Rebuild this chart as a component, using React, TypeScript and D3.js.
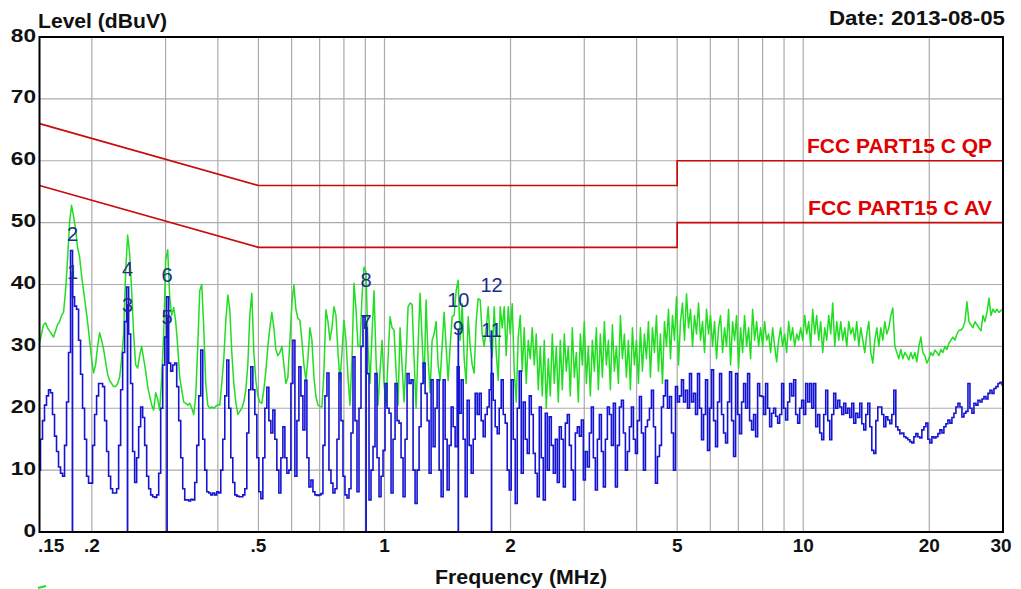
import React from 'react';
import * as d3 from 'd3';

// Sweep definition (start / stop in MHz); levels are read from the picture at
// evenly spaced (log) sweep positions.
const F_START = 0.15;
const F_STOP = 30;

const qpLevels: number[] = [
  30.5,32,33.5,33.8,33,32.5,32,31.5,32.5,33.5,34,35,35.5,39,44,50,52.8,51,49,46,
  44.5,41.5,39,36.5,34,31,28,25.7,27,30,32.2,31,29.5,27.5,25.5,24.5,24,23.5,23.5,24,
  25,28,32,42,48,45,39,32,27,26.5,28.5,30,28,26,23.5,22,20.5,19.7,22.5,21.5,
  19.7,25,32,44,45.6,38,35,36.3,34,30,25,23,21,20.8,20.5,20.8,20,19,22,30,
  39,40,33,24,20.5,20,20.2,20,20.3,20.6,20.5,24,28,34,38.3,36,29,24,21,19,
  19.5,20,21,23,27,35,38.6,29,24.5,22,21,20.8,23,26,30,33,35.5,33,29.5,28.5,
  29,30,27,24,25,31,37,39.9,36,34.5,34.2,31,27,24.5,28,33,31,25,21.9,20.5,
  20.3,20.2,26,35.9,34,31,33,36.4,35,29,24.5,29,34.2,31,25,20.5,28,40.2,36,30,
  30,38,42.8,42,30,24,32,39,28,20.5,26,31,24,20.5,28,34.8,33,32.6,26,20.5,
  33,27,21,28,36.4,37,36.8,28,20,30,38.6,31,24,37.5,28,22.5,31,32,34,27,
  24.5,30,35.5,30,24.5,30,34.8,35,39,40.7,31,36.9,28,24,34.8,30,27,25.7,34,37.7,
  37.5,32,30,33,36.4,31,28.3,36.4,29,24.5,36.4,33,36.4,28.5,36.4,32,36.9,26,21,31.5,
  35,26,33,24,31,28,33,27,32,23,30,22,31,20,28,22,32,24,30,21,
  31,23,32,26,30,22,33,25,29,21,32,27,34,24,30,22,31,26,33,23,
  32,25,34,27,31,23,33.5,26,30,24,35,28,32,25,31,23,33,27,31,24,
  33,26,32,28,34,25,33,29,35,26,32,24,34,30,36,28,35,31,38,27,
  34,37,31,38.5,33,36,30,35,32,37,31,34,29,36,32,35,30,34,28,33,
  35,29,33,30,36,27,34,31,35,26.5,33,29,35,30,33,28,36,31,34,30,
  33,30,34,31,32,29,33,30,27.5,31,33,30,32,29,34,31,33,30,32,31,
  33,31,35,32,34,30,36,32,35,31,34,29,33,31,35,32,37,30,34,31,
  34,31,33,30,34,32,33,31,34,30,33,31,29,32,34,29,27.3,31,33,30,
  33,31,34,32,33,35,36.2,30,29,28,29.5,28,29,28.5,27.8,29,28,29,27.5,30,
  31.5,29,28.5,27.3,28,29,28.5,29.4,29,28.5,29.5,29,30,29.5,30.5,31,31.5,31,32,32.6,
  32.6,33,34,37.2,34,33.5,33,34,33.5,33,32.5,35,34,35.5,37.8,35,36,35.5,36,35.5,
  35.8,36,
];

const avLevels: number[] = [
  10,15,18,20.5,22,23,22.5,19,15.5,13,10.5,9.5,9,14,21,29,45.5,38,36.5,36,
  31,25.5,20,15,9,7.9,7.9,14,19,22,24,24,23.5,18,13,9,7,6.3,6.3,7,
  14,23,29,34,39.6,32,24,13,8,12,17,20.2,18.5,14,9,7,6,5.7,5.6,6,
  9.5,20,27,31.5,38,27.3,26,27,27.3,23.5,18,12,7,5.2,5.2,5,5.3,5.2,8,14,
  22,29.4,15,10,6.5,6.3,6,6.3,6,6.5,6.3,10,15,22,27.8,20,12,8,6,5.8,
  5.7,5.7,6,7,16,23,26.7,23,19,12,6.5,5.4,12,20,23.4,18,16,19.7,15,10,
  6.3,12,17,12,9.5,10,24,31,9,18,26.7,22,16.5,24.5,12,7.3,8.4,6.5,6,5.9,
  6,6.2,14,22,25.7,10,7.9,6.3,7,15,25.7,18,9,6,5.5,7,16,28.3,18,6.5,
  20,30,34.8,33,25.6,5.2,10,13.8,25.6,12,5.7,9,13.2,24,20,19.2,6.3,15,24,18,
  17.6,12,5.7,15,25.6,24,24.6,10,4.6,10,17,24,27.3,22.4,18,9.5,24.6,13.8,20,24.6,
  10,5.7,24.6,15,6.8,14,20.2,17,13.8,26.7,19.2,24.6,15,5.7,21.3,14,9.5,15,22.4,19,
  22.4,18,15.4,19,20.2,23,25.6,21.3,17,15.9,20,24.6,19,17.6,10,6.8,24.6,15,4.6,20,
  26,9.5,21,15,12.7,22,19,12.7,9.5,5.7,20.2,12,5.2,19.2,10,18.6,14,9.5,15,8,
  17,15,7.3,17.6,19,14,10,5.2,16,17,15.5,18.1,8.4,13,10.5,16,20.2,12,6.8,15,
  19,13,7.3,15,20.2,19,14,20.8,7.3,14,20.2,21.3,16,10,13,17,20.2,15,12.7,18,
  21.9,16,10,17,18.1,20,22.9,17,7.9,12.2,14,20.2,22,24.5,20,21.9,16,10,23.5,21,
  22,24.6,21,22.9,20,25.6,21,22.4,19,25.6,20,14.9,19,24.6,13.2,20,26.2,18,13.8,21,
  25.6,19,16,14.4,21,25.9,18,12.2,25.6,19,15.9,21,24,20,25.6,18,16.5,19,15.4,24,
  22,21.9,19,24,20,17,19.2,20,18.7,17.6,19,24,20,18.1,21,24,22,24.6,19,17.6,
  20,21.3,19,24,21,24,20,24,17,19,16,14.9,19,22.9,18,14.9,19,22.4,20,21.3,
  20.2,19,20.8,19.2,20,18.5,20.8,17.6,19.2,18.5,20.8,17.5,16.5,19,20.8,17,13.2,12.7,18,20.2,
  20.2,19,17,18.6,18.1,17.5,19,22.9,17,16.5,15.9,16,15.4,15.2,14.9,14.6,14.4,15.4,15.9,15.4,
  15.2,16.5,17,17.6,15,14.4,15.4,15.2,15.4,15.9,16.5,16,17,17.5,18.1,17.6,18.5,19.2,20.2,20.8,
  20.2,18.6,19.2,19.5,24,20,19.2,20.8,20.5,21.3,21,21.5,21.9,21.5,22.4,22.9,22.4,23.2,23.5,24,
  24.2,23.8,
];

// Limit lines [MHz, dBuV]
const qpLimit: [number, number][] = [[0.15, 66], [0.5, 56], [5, 56], [5, 60], [30, 60]];
const avLimit: [number, number][] = [[0.15, 56], [0.5, 46], [5, 46], [5, 50], [30, 50]];

// Markers: id, frequency (MHz), level (dBuV)
const markerIds = [1, 2, 3, 4, 5, 6, 7, 8, 9, 10, 11, 12];
const markerFreqs = [0.1798, 0.1798, 0.2434, 0.2434, 0.3025, 0.3025, 0.9037, 0.9037, 1.5008, 1.5008, 1.8017, 1.8017];
const markerLevels = [42.1, 48.1, 36.7, 42.5, 34.8, 41.5, 34.0, 40.8, 32.9, 37.5, 32.6, 39.9];
const markerIsAv = [true, false, true, false, true, false, true, false, true, false, true, false];

const gridFreqs = [0.2, 0.3, 0.4, 0.5, 0.6, 0.7, 0.8, 0.9, 1, 2, 3, 4, 5, 6, 7, 8, 9, 10, 20];
const xTickValues = [0.15, 0.2, 0.5, 1, 2, 5, 10, 20, 30];
const xTickLabels = ['.15', '.2', '.5', '1', '2', '5', '10', '20', '30'];
const yTickValues = [0, 10, 20, 30, 40, 50, 60, 70, 80];

const L = 39.5, R = 1003, T = 37, B = 532;

export default function App() {
  const x = d3.scaleLog().domain([F_START, F_STOP]).range([L, R]);
  const y = d3.scaleLinear().domain([0, 80]).range([B, T]);

  const n = qpLevels.length;
  const freqs = qpLevels.map((_, i) => F_START * Math.pow(F_STOP / F_START, i / (n - 1)));

  const traceLine = d3.line<number>()
    .x((_, i) => x(freqs[i]))
    .y((v) => y(v));
  const stepLine = d3.line<number>()
    .x((_, i) => x(freqs[i]))
    .y((v) => y(v))
    .curve(d3.curveStep);
  const limLine = d3.line<[number, number]>()
    .x((d) => x(d[0]))
    .y((d) => y(d[1]));

  const sans = "'Liberation Sans', Arial, sans-serif";

  return (
    <svg width={1021} height={589} style={{ position: 'absolute', left: 0, top: 0, background: '#fff' }}>
      <defs>
        <clipPath id="plot">
          <rect x={L} y={T} width={R - L} height={B - T} />
        </clipPath>
      </defs>
      <rect x={0} y={0} width={1021} height={589} fill="#fff" />

      {/* grid */}
      {gridFreqs.map((f) => (
        <line key={'gx' + f} x1={x(f)} x2={x(f)} y1={T} y2={B} stroke="#ababab" strokeWidth={1.2} />
      ))}
      {yTickValues.filter((v) => v > 0 && v < 80).map((v) => (
        <line key={'gy' + v} x1={L} x2={R} y1={y(v)} y2={y(v)} stroke="#ababab" strokeWidth={1.2} />
      ))}

      <g clipPath="url(#plot)">
        {/* limits */}
        <path d={limLine(qpLimit) || ''} fill="none" stroke="#cc0a0a" strokeWidth={1.7} />
        <path d={limLine(avLimit) || ''} fill="none" stroke="#cc0a0a" strokeWidth={1.7} />
        {/* traces */}
        <path d={traceLine(qpLevels) || ''} fill="none" stroke="#22dd22" strokeWidth={1.5} strokeLinejoin="round" />
        <path d={stepLine(avLevels) || ''} fill="none" stroke="#1414d2" strokeWidth={1.6} />
        {/* marker drop lines */}
        {markerIds.map((id, i) => markerIsAv[i] ? (
          <line key={'d' + id} x1={x(markerFreqs[i])} x2={x(markerFreqs[i])} y1={y(markerLevels[i])} y2={B}
            stroke="#1414d2" strokeWidth={1.8} />
        ) : null)}
      </g>

      {/* marker labels */}
      {markerIds.map((id, i) => (
        <text key={'m' + id} x={x(markerFreqs[i])} y={y(markerLevels[i]) + 7} textAnchor="middle"
          fontFamily={sans} fontSize={20} fill="#1e2d8c">{id}</text>
      ))}

      {/* limit labels */}
      <text x={807} y={153} fontFamily={sans} fontWeight="bold" fontSize={21} fill="#e00000"
        textLength={185} lengthAdjust="spacingAndGlyphs">FCC PART15 C QP</text>
      <text x={808} y={215} fontFamily={sans} fontWeight="bold" fontSize={21} fill="#e00000"
        textLength={184} lengthAdjust="spacingAndGlyphs">FCC PART15 C AV</text>

      {/* border */}
      <rect x={L} y={T} width={R - L} height={B - T} fill="none" stroke="#000" strokeWidth={2} />

      {/* y tick labels */}
      {yTickValues.map((v) => {
        const s = String(v);
        const w = 12.6 * s.length;
        return (
          <text key={'yl' + v} x={36 - w} y={y(v) + 4.5} fontFamily={sans} fontWeight="bold" fontSize={19}
            fill="#111" textLength={w} lengthAdjust="spacingAndGlyphs">{s}</text>
        );
      })}

      {/* x tick labels */}
      {xTickValues.map((v, i) => (
        <text key={'xl' + v} x={i === 0 ? 38 : (i === xTickValues.length - 1 ? x(v) - 2 : x(v))} y={552}
          textAnchor={i === 0 ? 'start' : 'middle'} fontFamily={sans} fontWeight="bold" fontSize={19}
          fill="#111">{xTickLabels[i]}</text>
      ))}

      {/* titles */}
      <text x={38} y={28} fontFamily={sans} fontWeight="bold" fontSize={20} fill="#111"
        textLength={129} lengthAdjust="spacingAndGlyphs">Level (dBuV)</text>
      <text x={829} y={25} fontFamily={sans} fontWeight="bold" fontSize={20} fill="#111"
        textLength={176} lengthAdjust="spacingAndGlyphs">Date: 2013-08-05</text>
      <text x={435} y={584} fontFamily={sans} fontWeight="bold" fontSize={20} fill="#111"
        textLength={172} lengthAdjust="spacingAndGlyphs">Frequency (MHz)</text>

      {/* small cut-off legend stroke */}
      <line x1={38} x2={46} y1={588} y2={586} stroke="#22dd22" strokeWidth={2} />
    </svg>
  );
}
